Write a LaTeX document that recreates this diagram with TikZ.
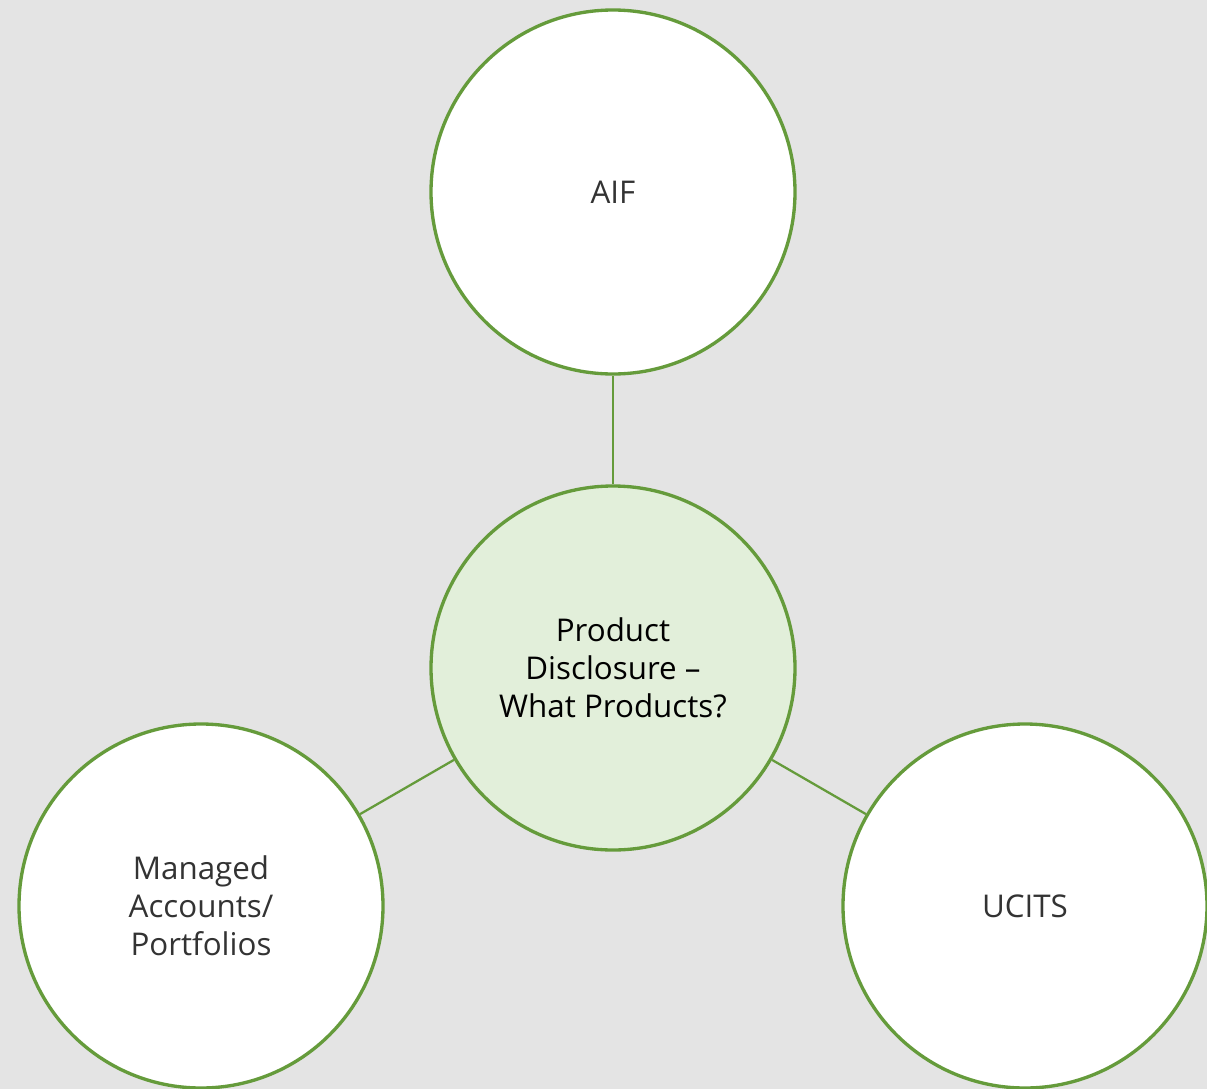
\documentclass[tikz,border=0pt]{standalone}
\usepackage{fontspec}
\setmainfont{Open Sans}
\definecolor{bgGrey}{RGB}{228,228,228}
\definecolor{leafGreen}{RGB}{101,155,59}
\definecolor{paleGreen}{RGB}{226,239,218}
\tikzset{
  bubble/.style={circle, draw=leafGreen, line width=2.5pt, fill=white, minimum size=273pt, inner sep=0pt, align=center, font=\fontsize{23.5}{28.5}\selectfont\color{black!80}},
  hub/.style={bubble, fill=paleGreen, font=\fontsize{23.5}{28.5}\selectfont\color{black}},
  spoke/.style={draw=leafGreen, line width=1.7pt}
}
\begin{document}
\begin{tikzpicture}[x=0.75pt,y=0.75pt,yscale=-1,xscale=1]
%background
\fill [bgGrey] (0,0) rectangle (1207,1089) ;
\useasboundingbox (0,0) rectangle (1207,1089) ;

%Shapes: Circles
\node [hub] (prod) at (613,668) {Product\\Disclosure --\\What Products?} ;
\node [bubble] (aif) at (613,192) {AIF} ;
\node [bubble] (managed) at (201,906) {Managed\\Accounts/\\Portfolios} ;
\node [bubble] (ucits) at (1025,906) {UCITS} ;

%Straight Lines
\draw [spoke] (prod) -- (aif) ;
\draw [spoke] (prod) -- (managed) ;
\draw [spoke] (prod) -- (ucits) ;

\end{tikzpicture}
\end{document}
